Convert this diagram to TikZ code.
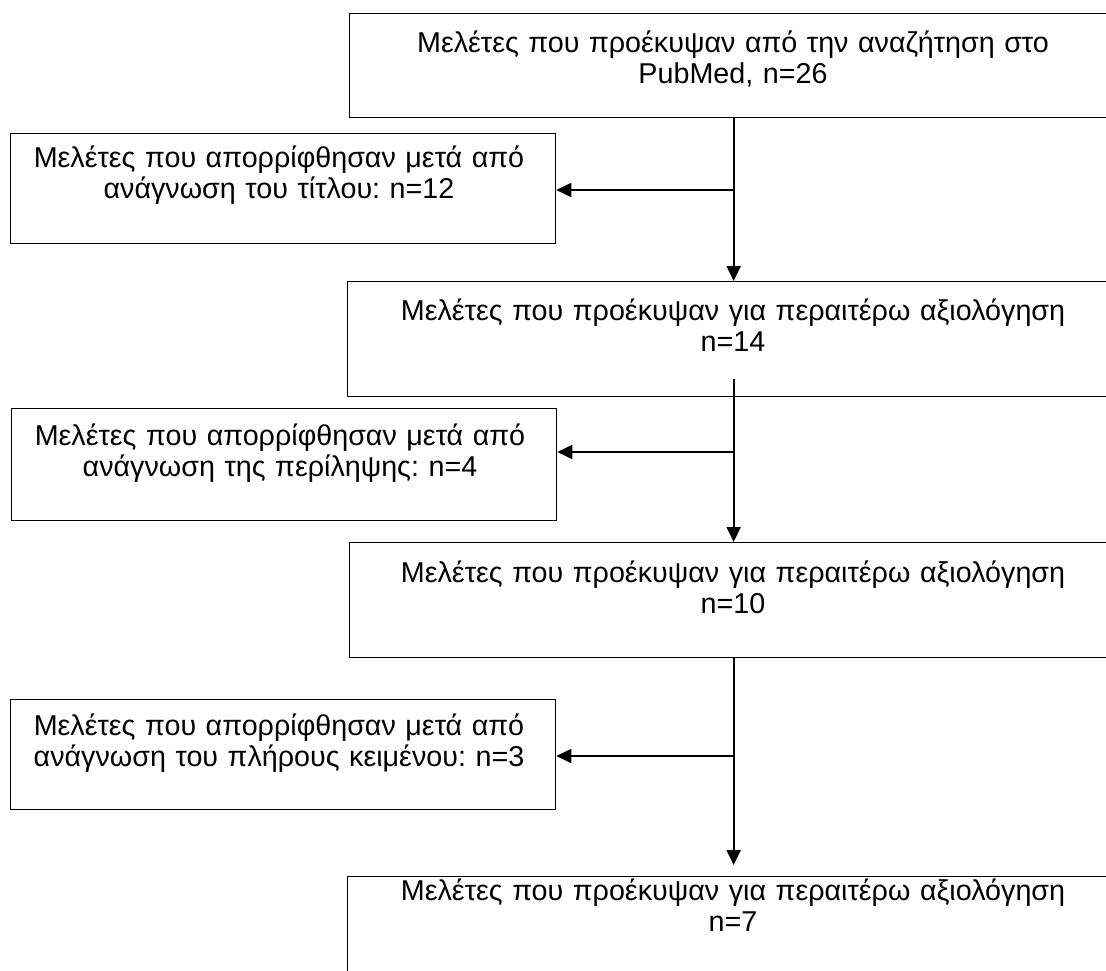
\documentclass[tikz,border=0pt]{standalone}
\usepackage{fontspec}
\setmainfont{Liberation Sans}
\usetikzlibrary{arrows.meta,calc}
\frenchspacing
\begin{document}
\begin{tikzpicture}[x=1pt,y=-1pt,
  box/.style={draw=black, line width=1.3pt, rectangle, inner sep=0pt, anchor=north west},
  txt/.style={font=\fontsize{28.7}{31.6}\selectfont, align=center, text width=#1, inner sep=0pt, anchor=base},
  txt/.default=700pt,
  arr/.style={line width=1.8pt, -{Triangle[length=15pt,width=14pt]}}]
\fill[white] (0,0) rectangle (1106,970);
\useasboundingbox (0,0) rectangle (1106,970);
\clip (0,0) rectangle (1106,970);
% boxes
\node[box, minimum width=768pt, minimum height=104pt] (A) at (349,13) {};
\node[box, minimum width=545pt, minimum height=110pt] (B) at (10,133) {};
\node[box, minimum width=772pt, minimum height=115pt] (C) at (347,281) {};
\node[box, minimum width=545pt, minimum height=112pt] (D) at (11,408) {};
\node[box, minimum width=768pt, minimum height=115pt] (E) at (349,542) {};
\node[box, minimum width=545pt, minimum height=110pt] (F) at (10,699) {};
\node[box, minimum width=772pt, minimum height=150pt] (G) at (347,876) {};
% texts
\node[txt=760pt] (tA) at (733,52) {Μελέτες που προέκυψαν από την αναζήτηση στο\\PubMed, n=26};
\node[txt=540pt] (tB) at (279,167) {Μελέτες που απορρίφθησαν μετά από\\ανάγνωση του τίτλου: n=12};
\node[txt=760pt] (tC) at (733,320) {Μελέτες που προέκυψαν για περαιτέρω αξιολόγηση\\n=14};
\node[txt=540pt] (tD) at (280,445) {Μελέτες που απορρίφθησαν μετά από\\ανάγνωση της περίληψης: n=4};
\node[txt=760pt] (tE) at (733,582) {Μελέτες που προέκυψαν για περαιτέρω αξιολόγηση\\n=10};
\node[txt=540pt] (tF) at (279,735) {Μελέτες που απορρίφθησαν μετά από\\ανάγνωση του πλήρους κειμένου: n=3};
\node[txt=760pt] (tG) at (733,900) {Μελέτες που προέκυψαν για περαιτέρω αξιολόγηση\\n=7};
% connectors
\coordinate (b1) at (733,190);
\coordinate (b2) at (733,452);
\coordinate (b3) at (733,756);
\draw[arr] (A.south) -- (C.north);
\draw[arr] (b1) -- (b1 -| B.east);
\draw[arr] ([yshift=18pt]C.south) -- (E.north);
\draw[arr] (b2) -- (b2 -| D.east);
\draw[arr, shorten >=11pt] (E.south) -- (G.north);
\draw[arr] (b3) -- (b3 -| F.east);
\end{tikzpicture}
\end{document}
